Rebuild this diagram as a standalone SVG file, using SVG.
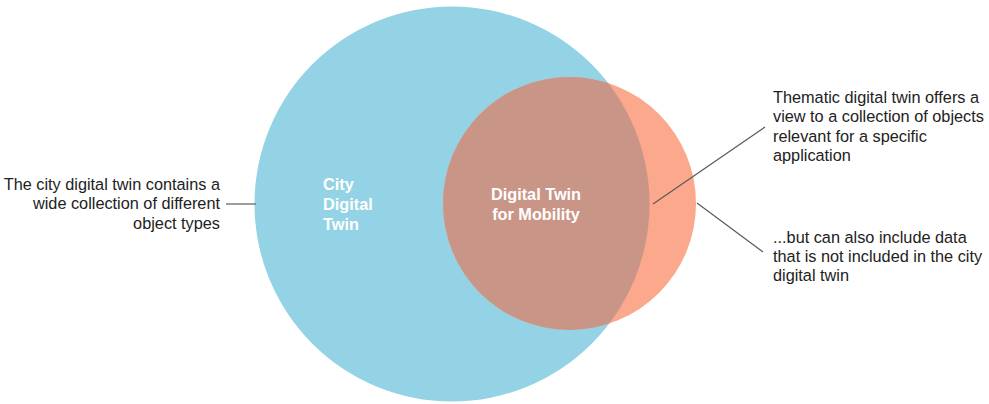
<svg xmlns="http://www.w3.org/2000/svg" width="989" height="404" viewBox="0 0 989 404">
<style>
.t{font-family:"Liberation Sans",Arial,sans-serif;font-size:16.3px;fill:#222}
.w{font-family:"Liberation Sans",Arial,sans-serif;font-size:16.3px;font-weight:bold;fill:#fff}
.c{stroke:#5a5a5a;stroke-width:1.2;fill:none}
</style>
<defs>
<clipPath id="bigclip"><circle cx="452" cy="204" r="197.5"/></clipPath>
</defs>
<rect width="989" height="404" fill="#fff"/>
<g id="city">
<circle cx="452" cy="204" r="197.5" fill="#93D3E5"/>
<text class="w" x="323" y="190">City</text>
<text class="w" x="323" y="210">Digital</text>
<text class="w" x="323" y="230">Twin</text>
</g>
<g id="mobility">
<circle cx="569.5" cy="203.5" r="126.5" fill="#FBA88C"/>
<circle cx="569.5" cy="203.5" r="126.5" fill="#C99587" clip-path="url(#bigclip)"/>
<text class="w" x="536" y="200" text-anchor="middle">Digital Twin</text>
<text class="w" x="536" y="220" text-anchor="middle">for Mobility</text>
</g>
<g id="connectors">
<line class="c" x1="226" y1="204" x2="256" y2="204"/>
<line class="c" x1="765" y1="127" x2="653" y2="204"/>
<line class="c" x1="697" y1="203" x2="763" y2="252"/>
</g>
<g id="note-left">
<text class="t" x="220" y="190" text-anchor="end">The city digital twin contains a</text>
<text class="t" x="220" y="209" text-anchor="end">wide collection of different</text>
<text class="t" x="220" y="229" text-anchor="end">object types</text>
</g>
<g id="note-thematic">
<text class="t" x="773" y="103">Thematic digital twin offers a</text>
<text class="t" x="773" y="122">view to a collection of objects</text>
<text class="t" x="773" y="142">relevant for a specific</text>
<text class="t" x="773" y="161">application</text>
</g>
<g id="note-extra">
<text class="t" x="773" y="243">...but can also include data</text>
<text class="t" x="773" y="262">that is not included in the city</text>
<text class="t" x="773" y="281">digital twin</text>
</g>
</svg>
